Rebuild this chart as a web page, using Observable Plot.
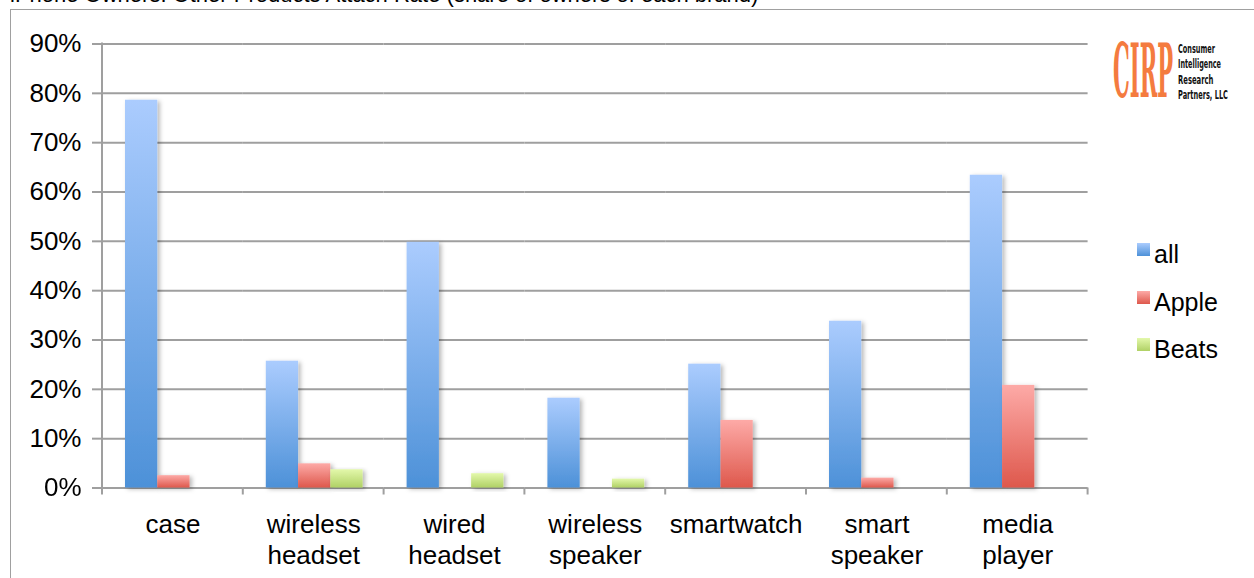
<!DOCTYPE html>
<html>
<head>
<meta charset="utf-8">
<script src="https://cdn.jsdelivr.net/npm/d3@7"></script>
<script src="https://cdn.jsdelivr.net/npm/@observablehq/plot@0.6"></script>
<style>
  html, body { margin: 0; padding: 0; background: #fff; }
  #wrap { position: relative; width: 1254px; height: 578px; overflow: hidden;
          font-family: "Liberation Sans", Arial, Helvetica, sans-serif; color: #000; }
  #frame { position: absolute; left: 10px; top: 9px; width: 1300px; height: 700px;
           border-left: 1.5px solid #a0a0a0; border-top: 1.5px solid #a0a0a0; }
  #title { position: absolute; left: 10px; top: -16.5px; font-size: 22px; line-height: 22px; white-space: nowrap; }
  #chart { position: absolute; left: 0; top: 0; }
  #logo { position: absolute; left: 1100px; top: 30px; overflow: visible; }
  .leg { position: absolute; left: 1137px; width: 13px; height: 13px; }
  .legt { position: absolute; left: 1154px; font-size: 25px; line-height: 25px; white-space: nowrap; }
</style>
</head>
<body>
<div id="wrap">
  <div id="frame"></div>
  <div id="title"></div>
  <div id="chart"></div>
  <svg id="logo" width="154" height="80" viewBox="0 0 154 80">
    <text class="fit" data-x="13" data-y="67" data-w="60" font-family="'DejaVu Serif Condensed','DejaVu Serif',serif" font-weight="bold" font-size="74" fill="#f47b3f">CIRP</text>
    <g font-family="'DejaVu Sans Condensed','DejaVu Sans',sans-serif" font-weight="bold" font-size="12.8" fill="#111">
      <text class="fit" data-x="78" data-y="22.7" data-w="37">Consumer</text>
      <text class="fit" data-x="78" data-y="38" data-w="43">Intelligence</text>
      <text class="fit" data-x="78" data-y="53.5" data-w="35.5">Research</text>
      <text class="fit" data-x="78" data-y="68.5" data-w="50">Partners, LLC</text>
    </g>
  </svg>
  <div id="legend"></div>
</div>
<script>
// ---- data ----
const titleText = "iPhone Owners: Other Products Attach Rate (share of owners of each brand)";
const categories = ["case", "wireless\nheadset", "wired\nheadset", "wireless\nspeaker", "smartwatch", "smart\nspeaker", "media\nplayer"];
const series = ["all", "Apple", "Beats"];
const allValues   = [0.786, 0.257, 0.498, 0.182, 0.251, 0.338, 0.634];
const appleValues = [0.025, 0.049, null,  null,  0.137, 0.020, 0.208];
const beatsValues = [null,  0.037, 0.029, 0.018, null,  null,  null];
const yTicks = [0, 0.1, 0.2, 0.3, 0.4, 0.5, 0.6, 0.7, 0.8, 0.9];
const yTickLabels = ["0%", "10%", "20%", "30%", "40%", "50%", "60%", "70%", "80%", "90%"];

// ---- styling ----
const gradients = {
  all:   ["#abccfe", "#4d91d8"],
  Apple: ["#fdaaa7", "#de584c"],
  Beats: ["#e3f8ab", "#b0d165"]
};
const gridColor = "#9f9f9f";

document.getElementById("title").textContent = titleText;

// fit logo texts to their widths
document.querySelectorAll("#logo text.fit").forEach(t => {
  const w = t.getComputedTextLength() || 1;
  const s = (+t.dataset.w) / w;
  t.setAttribute("transform", `translate(${t.dataset.x},${t.dataset.y}) scale(${s},1)`);
});

const valuesBySeries = { all: allValues, Apple: appleValues, Beats: beatsValues };
const rows = [];
categories.forEach((c, i) => {
  series.forEach(s => {
    const v = valuesBySeries[s][i];
    if (v != null) rows.push({ category: c, series: s, value: v });
  });
});

const W = 1254, H = 578;
const plotLeft = 102, plotRight = 1087.6, plotTop = 43.5, plotBottom = 487.5;

const plot = Plot.plot({
  width: W,
  height: H,
  marginLeft: plotLeft,
  marginRight: W - plotRight,
  marginTop: plotTop,
  marginBottom: H - plotBottom,
  style: { fontFamily: '"Liberation Sans", Arial, Helvetica, sans-serif', fontSize: "25px", color: "#000", background: "transparent", overflow: "visible" },
  fx: { domain: categories, padding: 0, round: false, label: null },
  x: { domain: series, padding: 0, round: false, insetLeft: 23, insetRight: 21, axis: null },
  y: { domain: [0, 0.9], axis: null },
  marks: [
    Plot.ruleY(yTicks, { stroke: gridColor, strokeWidth: 2 }),
    ...series.map(s => Plot.barY(rows.filter(d => d.series === s), {
      fx: "category", x: "series", y: "value", fill: `url(#grad-${s})`
    })),
    Plot.axisY({
      ticks: yTicks,
      label: null,
      tickFormat: d => yTickLabels[yTicks.indexOf(d)],
      tickSize: 10, tickPadding: 11, fontSize: 26,
      stroke: gridColor, strokeWidth: 2, strokeOpacity: 1
    }),
    Plot.axisFx({ anchor: "bottom", tickSize: 0, tickPadding: 23, fontSize: 26, lineHeight: 1.2, label: null })
  ]
});

document.getElementById("chart").appendChild(plot);

// defs: gradients + shadow
const svg = d3.select(plot);
const defs = svg.insert("defs", ":first-child");
Object.entries(gradients).forEach(([k, [t, b]]) => {
  const lg = defs.append("linearGradient").attr("id", `grad-${k}`)
    .attr("x1", 0).attr("y1", 0).attr("x2", 0).attr("y2", 1);
  lg.append("stop").attr("offset", "0%").attr("stop-color", t);
  lg.append("stop").attr("offset", "100%").attr("stop-color", b);
});
const f = defs.append("filter").attr("id", "shadow")
  .attr("x", "-30%").attr("y", "-10%").attr("width", "170%").attr("height", "130%");
f.append("feDropShadow").attr("dx", 2.5).attr("dy", 1.5).attr("stdDeviation", 2)
  .attr("flood-color", "#000").attr("flood-opacity", 0.28);
svg.selectAll('g[aria-label="bar"]').attr("filter", "url(#shadow)");

// axis lines and category separators from the plot's scales
const fxS = plot.scale("fx");
const yS = plot.scale("y");
const y0 = yS.apply(0), y9 = yS.apply(0.9);
const axisG = svg.append("g").attr("stroke", gridColor).attr("stroke-width", 2);
const x0 = fxS.apply(categories[0]);
axisG.append("line").attr("x1", x0).attr("x2", x0).attr("y1", y9 - 1).attr("y2", y0 + 7);
const bounds = categories.map(c => fxS.apply(c));
bounds.push(fxS.apply(categories[categories.length - 1]) + fxS.bandwidth);
bounds.slice(1).forEach(bx => {
  axisG.append("line").attr("x1", bx).attr("x2", bx).attr("y1", y0).attr("y2", y0 + 7);
});

// legend
const legend = document.getElementById("legend");
const legTops = [243, 291, 338];
series.forEach((s, i) => {
  const sw = document.createElement("div");
  sw.className = "leg";
  sw.style.top = legTops[i] + "px";
  sw.style.background = `linear-gradient(${gradients[s][0]}, ${gradients[s][1]})`;
  legend.appendChild(sw);
  const t = document.createElement("div");
  t.className = "legt";
  t.style.top = (legTops[i] - 1.5) + "px";
  t.textContent = s;
  legend.appendChild(t);
});
</script>
</body>
</html>
